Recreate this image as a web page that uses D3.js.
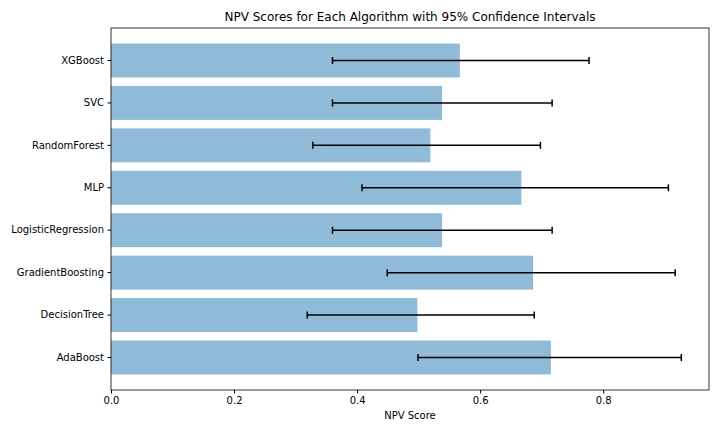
<!DOCTYPE html>
<html><head><meta charset="utf-8">
<script src="https://cdn.jsdelivr.net/npm/d3@7"></script>
<style>body{margin:0;background:#fff}svg{font-family:"DejaVu Sans",sans-serif}</style>
</head><body>
<svg id="c" width="720" height="432"></svg>
<script>
const categories=["XGBoost","SVC","RandomForest","MLP","LogisticRegression","GradientBoosting","DecisionTree","AdaBoost"];
const npv=[0.567,0.538,0.519,0.667,0.538,0.686,0.498,0.715];
const ciLow=[0.36,0.36,0.328,0.408,0.36,0.449,0.319,0.499];
const ciHigh=[0.777,0.717,0.698,0.906,0.717,0.917,0.688,0.927];
const xTicks=[0,0.2,0.4,0.6,0.8];

const svg=d3.select("#c");
const L=111,R=709,T=28,B=390;
const x=d3.scaleLinear().domain([0,0.972]).range([L,R]);
const y=d3.scaleBand().domain(categories).range([T+11.3,B-11.3]).paddingInner(0.2).paddingOuter(0.1);

svg.selectAll("rect.bar").data(categories).enter().append("rect")
 .attr("x",x(0)).attr("y",d=>y(d)).attr("height",y.bandwidth())
 .attr("width",(d,i)=>x(npv[i])-x(0)).attr("fill","#8fbbd9");

const g=svg.append("g");
categories.forEach((c,i)=>{
 const cy=y(c)+y.bandwidth()/2;
 g.append("line").attr("x1",x(ciLow[i])).attr("x2",x(ciHigh[i])).attr("y1",cy).attr("y2",cy).attr("stroke","#000").attr("stroke-width",1.5);
 [ciLow[i],ciHigh[i]].forEach(v=>g.append("line").attr("x1",x(v)).attr("x2",x(v)).attr("y1",cy-3.5).attr("y2",cy+3.5).attr("stroke","#000").attr("stroke-width",1.5));
});

svg.append("rect").attr("x",L).attr("y",T).attr("width",R-L).attr("height",B-T).attr("fill","none").attr("stroke","#000").attr("stroke-width",0.8);

const xa=svg.append("g").attr("transform",`translate(0,${B})`).call(d3.axisBottom(x).tickValues(xTicks).tickFormat(d3.format(".1f")).tickSize(3.5).tickPadding(3.5));
xa.select(".domain").remove();
xa.selectAll("text").attr("font-size",10).attr("font-family","DejaVu Sans").attr("fill","#000");
const ya=svg.append("g").attr("transform",`translate(${L},0)`).call(d3.axisLeft(y).tickSize(3.5).tickPadding(3.5));
ya.select(".domain").remove();
ya.selectAll("text").attr("font-size",10).attr("font-family","DejaVu Sans").attr("fill","#000");

svg.append("text").attr("x",(L+R)/2).attr("y",21).attr("text-anchor","middle").attr("font-size",12).text("NPV Scores for Each Algorithm with 95% Confidence Intervals");
svg.append("text").attr("x",(L+R)/2).attr("y",419).attr("text-anchor","middle").attr("font-size",10).text("NPV Score");
</script></body></html>
